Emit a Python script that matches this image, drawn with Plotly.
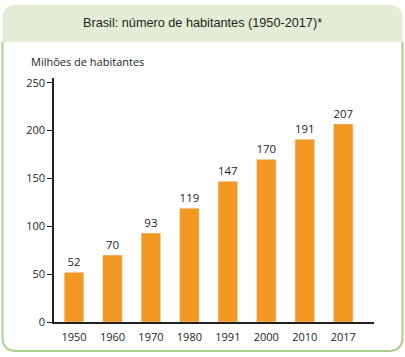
import plotly.graph_objects as go

years = ["1950", "1960", "1970", "1980", "1991", "2000", "2010", "2017"]
habitantes = [52, 70, 93, 119, 147, 170, 191, 207]
y_ticks = [0, 50, 100, 150, 200, 250]

W, H = 405, 357
L, R, T, B = 54, 374, 78, 322


def px(x):
    return (x - L) / (R - L)


def py(y):
    return (B - y) / (B - T)


fig = go.Figure(go.Bar(
    x=years, y=habitantes, marker_color="#F39823", width=0.51,
    text=[str(v) for v in habitantes], textposition="outside",
    textfont=dict(family="Open Sans", size=11.5, color="#231F20"),
    cliponaxis=False,
))

fl, fr, ft, fb, rad, hb = 2.5, 402.5, 5, 351, 14, 42
header = (f"M {px(fl)},{py(hb)} L {px(fl)},{py(ft+rad)} Q {px(fl)},{py(ft)} {px(fl+rad)},{py(ft)} "
          f"L {px(fr-rad)},{py(ft)} Q {px(fr)},{py(ft)} {px(fr)},{py(ft+rad)} L {px(fr)},{py(hb)} Z")
border = (f"M {px(fl)},{py(hb)} L {px(fl)},{py(fb-rad)} Q {px(fl)},{py(fb)} {px(fl+rad)},{py(fb)} "
          f"L {px(fr-rad)},{py(fb)} Q {px(fr)},{py(fb)} {px(fr)},{py(fb-rad)} L {px(fr)},{py(hb)}")

fig.update_layout(
    width=W, height=H,
    margin=dict(l=L, r=W - R, t=T, b=H - B),
    paper_bgcolor="white", plot_bgcolor="rgba(0,0,0,0)",
    showlegend=False,
    shapes=[
        dict(type="path", path=header, xref="paper", yref="paper", fillcolor="#E3ECD4",
             line=dict(width=0), layer="below"),
        dict(type="path", path=border, xref="paper", yref="paper",
             line=dict(color="#A8D08A", width=2), layer="below"),
    ],
    annotations=[
        dict(text="Brasil: número de habitantes (1950-2017)*", x=px(202.5), y=py(23),
             xref="paper", yref="paper", xanchor="center", yanchor="middle", showarrow=False,
             font=dict(family="Liberation Sans", size=12.7, color="#231F20")),
        dict(text="Milhões de habitantes", x=px(29), y=py(62), xref="paper", yref="paper",
             xanchor="left", yanchor="middle", showarrow=False,
             font=dict(family="Open Sans", size=11, color="#231F20")),
    ],
)
fig.update_xaxes(
    type="category", range=[-0.52, 7.8], showline=True, linecolor="#231F20", linewidth=1.5,
    ticks="", showgrid=False, zeroline=False, ticklabelstandoff=4,
    tickfont=dict(family="Open Sans", size=11, color="#231F20"),
)
fig.update_yaxes(
    range=[0, 255], tickvals=y_ticks, showline=True, linecolor="#231F20", linewidth=1.5,
    ticks="outside", ticklen=5, tickwidth=1, tickcolor="#231F20", showgrid=False, zeroline=False,
    tickfont=dict(family="Open Sans", size=11, color="#231F20"),
)
fig.write_html("out.html", post_script="document.body.style.margin='0';",
               config={"displayModeBar": False})
